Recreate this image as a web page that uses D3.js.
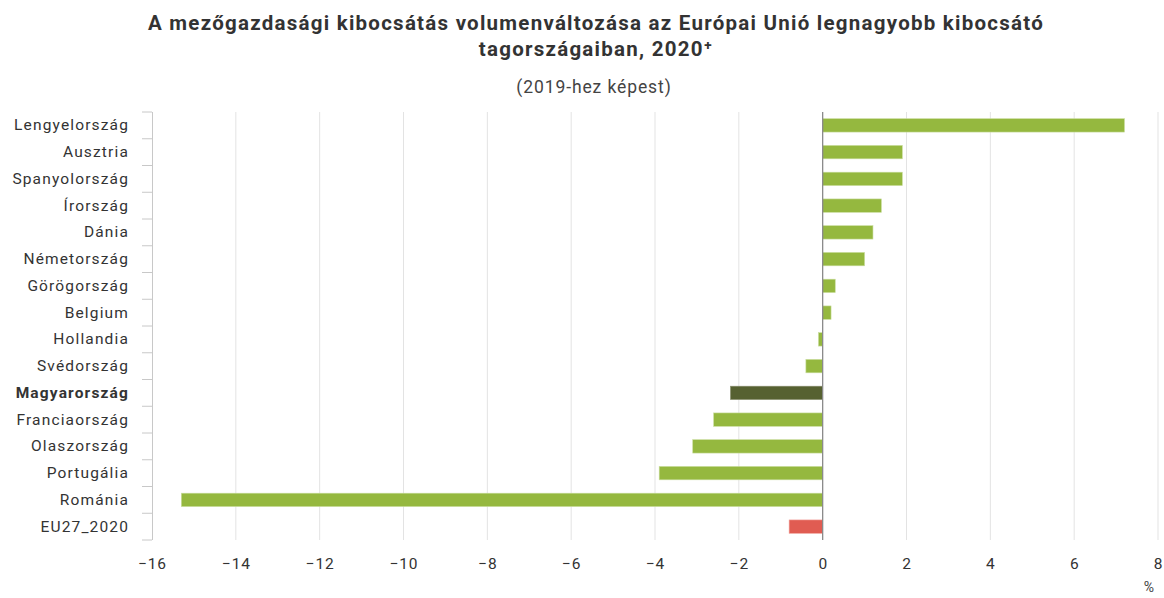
<!DOCTYPE html>
<html><head><meta charset="utf-8">
<script src="https://cdn.jsdelivr.net/npm/d3@7"></script>
<style>body{margin:0;background:#fff}svg{display:block;font-family:Roboto,"Noto Sans",sans-serif}</style>
</head><body><svg id="c" width="1164" height="598"></svg>
<script>
const categories = ["Lengyelország","Ausztria","Spanyolország","Írország","Dánia","Németország","Görögország","Belgium","Hollandia","Svédország","Magyarország","Franciaország","Olaszország","Portugália","Románia","EU27_2020"];
const values = [7.2,1.9,1.9,1.4,1.2,1.0,0.3,0.2,-0.1,-0.4,-2.2,-2.6,-3.1,-3.9,-15.3,-0.8];
const xTicks = [-16,-14,-12,-10,-8,-6,-4,-2,0,2,4,6,8];
const titleLines = ["A mezőgazdasági kibocsátás volumenváltozása az Európai Unió legnagyobb kibocsátó","tagországaiban, 2020⁺"];
const subtitle = "(2019-hez képest)";
const unit = "%";

const svg = d3.select("#c");
const x = d3.scaleLinear().domain([-16,8]).range([152,1158]);
const y = d3.scaleBand().domain(categories).range([112,540]).paddingInner(0.5).paddingOuter(0.25);

svg.append("g").selectAll("text").data(titleLines).join("text")
  .attr("x",596).attr("y",(d,i)=>30+i*26).attr("text-anchor","middle")
  .attr("font-size",20.5).attr("font-weight","bold").attr("fill","#333").attr("letter-spacing",1.25).text(d=>d);
svg.append("text").attr("x",594).attr("y",93).attr("text-anchor","middle")
  .attr("font-size",17.5).attr("fill","#444").attr("letter-spacing",0.9).text(subtitle);

// grid
svg.append("g").selectAll("line").data(xTicks.filter(d=>d!==0 && d!==-16)).join("line")
  .attr("x1",d=>x(d)).attr("x2",d=>x(d)).attr("y1",112).attr("y2",540)
  .attr("stroke","#e3e3e3").attr("stroke-width",1);

// bars
svg.append("g").selectAll("rect").data(values).join("rect")
  .attr("x",d=>x(Math.min(0,d))).attr("width",d=>Math.abs(x(d)-x(0)))
  .attr("y",(d,i)=>y(categories[i])).attr("height",y.bandwidth())
  .attr("fill",(d,i)=>categories[i]==="Magyarország"?"#566131":(categories[i]==="EU27_2020"?"#e05c52":"#95b83f"))
  .attr("stroke",(d,i)=>categories[i]==="Magyarország"?"#8a9070":(categories[i]==="EU27_2020"?"#f0a09a":"#c8dc9c"))
  .attr("stroke-width",0.6);

// zero line
svg.append("line").attr("x1",x(0)).attr("x2",x(0)).attr("y1",112).attr("y2",540)
  .attr("stroke","#8a8a8a").attr("stroke-width",1.3);

// y axis
const ya = svg.append("g").attr("transform","translate(152,0)")
  .call(d3.axisLeft(y).tickSize(0).tickPadding(23));
ya.select(".domain").remove();
ya.selectAll("text").attr("font-size",15.5).attr("fill","#333").attr("font-family","Roboto").attr("letter-spacing",1.15)
  .attr("font-weight",d=>d==="Magyarország"?"bold":"normal");
const ticksY = d3.range(categories.length+1).map(i=>112+i*y.step());
svg.append("g").selectAll("line").data(ticksY).join("line")
  .attr("x1",142).attr("x2",152).attr("y1",d=>d).attr("y2",d=>d).attr("stroke","#c8c8c8");
svg.append("line").attr("x1",152.5).attr("x2",152.5).attr("y1",112).attr("y2",540).attr("stroke","#c8c8c8");

// x axis labels
const xa = svg.append("g").attr("transform","translate(0,540)")
  .call(d3.axisBottom(x).tickValues(xTicks).tickSize(0).tickPadding(18).tickFormat(d=>d<0?"−"+Math.abs(d):String(d)));
xa.select(".domain").remove();
xa.selectAll("text").attr("font-size",15.5).attr("fill","#333").attr("font-family","Roboto").attr("letter-spacing",0.8);

svg.append("text").attr("x",1149).attr("y",592).attr("text-anchor","middle").attr("font-size",14).attr("fill","#444").text(unit);
</script></body></html>
